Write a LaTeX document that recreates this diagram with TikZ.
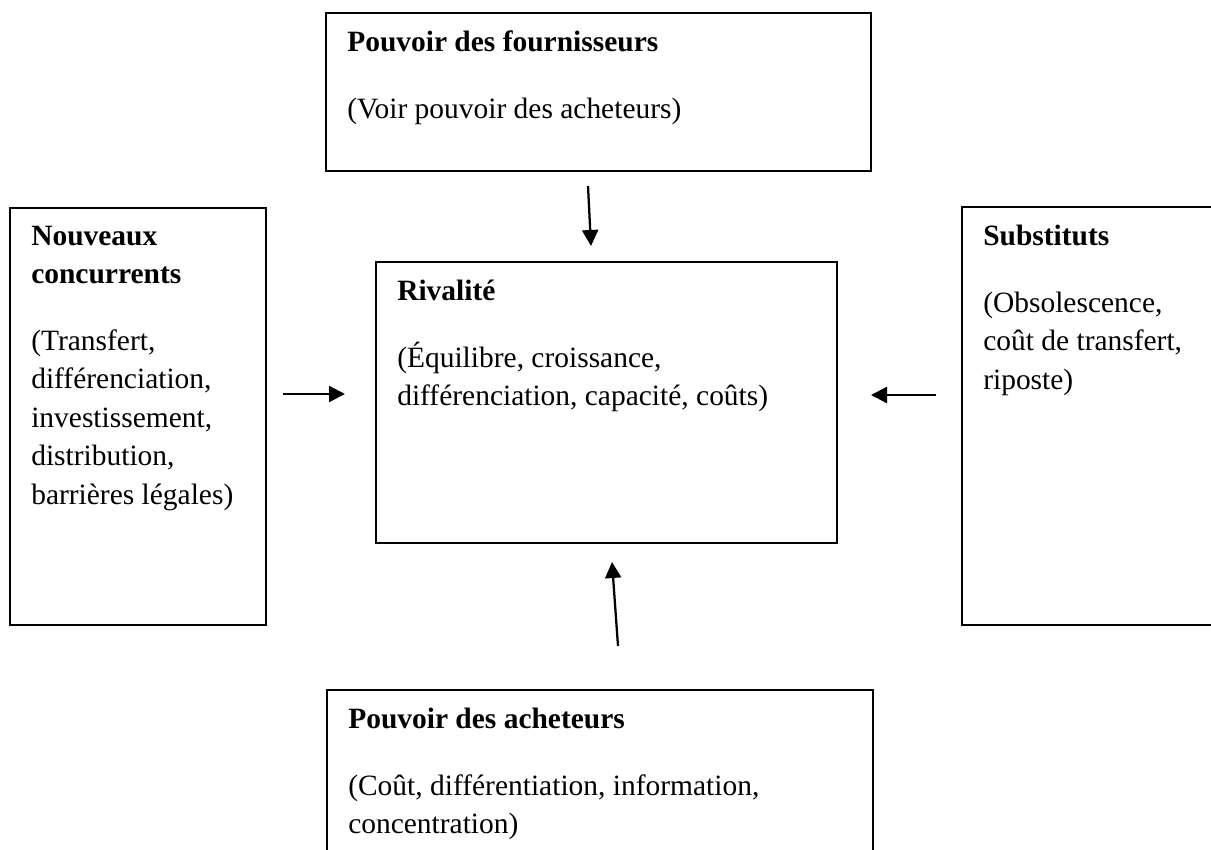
\documentclass[tikz,border=0pt]{standalone}
\usepackage{fontspec}
\setmainfont{Liberation Serif}
\usetikzlibrary{arrows.meta}
% stacked lines whose reference point is the first baseline
\newcommand\textlines[1]{\begin{tabular}[t]{@{}l@{}}#1\end{tabular}}
\begin{document}
\begin{tikzpicture}[x=0.75pt,y=-0.75pt,
  box/.style={draw,line width=1.3pt,inner sep=0pt,outer sep=0pt,anchor=north west},
  txt/.style={inner sep=0pt,anchor=base west,font=\fontsize{22.1pt}{28.9pt}\selectfont},
  head/.style={txt,font=\fontsize{22.1pt}{28.9pt}\selectfont\bfseries},
  arr/.style={line width=1.7pt,-{Triangle[length=12pt,width=12pt]}}]
\useasboundingbox (0,0) rectangle (1211,850);
\clip (0,0) rectangle (1211,850);

% the five forces boxes
\node[box,minimum width=408.75pt,minimum height=118.5pt] (sup) at (326,13) {};
\node[box,minimum width=192pt,minimum height=312.75pt] (newc) at (10,208) {};
\node[box,minimum width=345.75pt,minimum height=210.75pt] (rival) at (376,262) {};
\node[box,minimum width=208.5pt,minimum height=313.5pt] (subst) at (962,207) {};
\node[box,minimum width=409.5pt,minimum height=142.5pt] (buyers) at (327,690) {};

% texts
\node[head] (supH) at (347,51) {Pouvoir des fournisseurs};
\node[txt] (supB) at (347,118) {(Voir pouvoir des acheteurs)};

\node[head] (newcH) at (31,245) {\textlines{Nouveaux\\concurrents}};
\node[txt] (newcB) at (31,350) {\textlines{(Transfert,\\différenciation,\\investissement,\\distribution,\\barrières légales)}};

\node[head] (rivalH) at (397,300) {Rivalité};
\node[txt] (rivalB) at (397,367) {\textlines{(Équilibre, croissance,\\différenciation, capacité, coûts)}};

\node[head] (substH) at (983,245) {Substituts};
\node[txt] (substB) at (983,312) {\textlines{(Obsolescence,\\coût de transfert,\\riposte)}};

\node[head] (buyersH) at (348,728) {Pouvoir des acheteurs};
\node[txt] (buyersB) at (348,795) {\textlines{(Coût, différentiation, information,\\concentration)}};

% arrows towards the rivalry box
\coordinate (topS) at (588,186);
\coordinate (topE) at (591,246);
\coordinate (leftS) at (283,394);
\coordinate (leftE) at (345,394);
\coordinate (rightS) at (936,395);
\coordinate (rightE) at (871,395);
\coordinate (botS) at (618,646);
\coordinate (botE) at (612,562);
\draw[arr] (topS) -- (topE);
\draw[arr] (leftS) -- (leftE);
\draw[arr] (rightS) -- (rightE);
\draw[arr] (botS) -- (botE);
\end{tikzpicture}
\end{document}
